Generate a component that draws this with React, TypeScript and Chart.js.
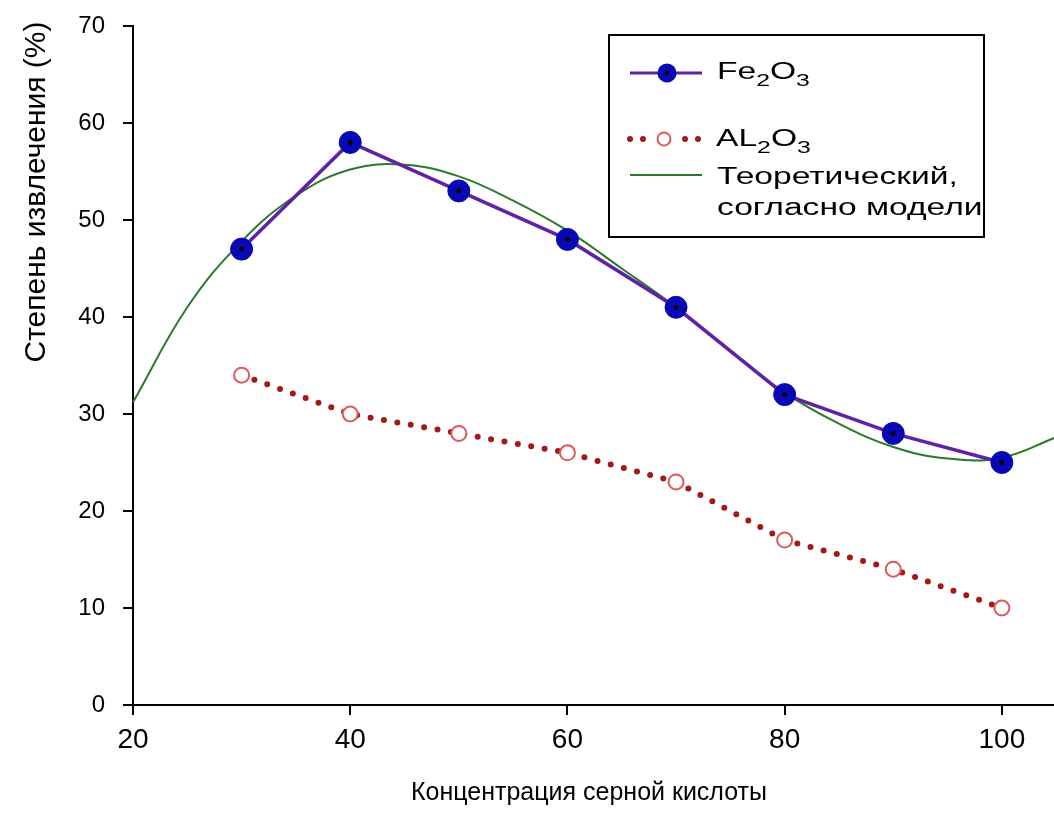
import React, { useEffect, useRef } from "react";
import { Chart, registerables } from "chart.js";

Chart.register(...registerables);

const FE_X = [30, 40, 50, 60, 70, 80, 90, 100];
const FE_Y = [47, 58, 53, 48, 41, 32, 28, 25];
const AL_X = [30, 40, 50, 60, 70, 80, 90, 100];
const AL_Y = [34, 30, 28, 26, 23, 17, 14, 10];
const THEO_X = [20, 25, 30, 35, 40, 45, 50, 55, 60, 65, 70, 75, 80, 85, 90, 95, 100, 105];
const THEO_Y = [31.2, 41, 47.8, 52.5, 55.2, 55.7, 54.5, 52, 48.9, 45, 41, 36.5, 32.2, 29, 26.6, 25.4, 25.5, 27.6];
const X_TICKS = [20, 40, 60, 80, 100];
const Y_TICKS = [0, 10, 20, 30, 40, 50, 60, 70];
const X_TITLE = "Концентрация серной кислоты";
const Y_TITLE = "Степень извлечения (%)";
const LEG_FE = ["Fe", "2", "O", "3"];
const LEG_AL = ["AL", "2", "O", "3"];
const LEG_THEO = ["Теоретический,", "согласно модели"];

const PURPLE = "#5e22a6";
const BLUE = "#0808b4";
const DARKRED = "#a51818";
const PINK = "#de5a5a";
const GREEN = "#2b7a2b";
const SANS = "'Liberation Sans', Arial, sans-serif";
const LEG_SX = 1.46;

function stretchText(ctx: CanvasRenderingContext2D, t: string, x: number, y: number, sx: number) {
  ctx.save();
  ctx.translate(x, y);
  ctx.scale(sx, 1);
  ctx.fillText(t, 0, 0);
  ctx.restore();
  return ctx.measureText(t).width * sx;
}

function drawSub(ctx: CanvasRenderingContext2D, parts: string[], x: number, y: number) {
  let cx = x;
  parts.forEach((p, i) => {
    const sub = i % 2 === 1;
    ctx.font = sub ? `17px ${SANS}` : `23px ${SANS}`;
    ctx.textBaseline = "alphabetic";
    ctx.textAlign = "left";
    cx += stretchText(ctx, p, cx, sub ? y + 7 : y, LEG_SX);
  });
}

const overlay = {
  id: "overlay",
  afterDatasetsDraw(chart: any) {
    const ctx = chart.ctx as CanvasRenderingContext2D;
    const meta = chart.getDatasetMeta(0);
    ctx.save();
    ctx.fillStyle = "#000";
    meta.data.forEach((pt: any) => {
      ctx.beginPath();
      ctx.arc(pt.x, pt.y, 2.4, 0, Math.PI * 2);
      ctx.fill();
    });
    ctx.restore();
  },
  afterDraw(chart: any) {
    const ctx = chart.ctx as CanvasRenderingContext2D;
    ctx.save();
    ctx.fillStyle = "#000";
    ctx.textAlign = "center";
    ctx.textBaseline = "middle";
    ctx.font = `30px ${SANS}`;
    ctx.save();
    ctx.translate(37, 192);
    ctx.rotate(-Math.PI / 2);
    ctx.fillText(Y_TITLE, 0, 0);
    ctx.restore();
    ctx.font = `25px ${SANS}`;
    ctx.textBaseline = "alphabetic";
    ctx.fillText(X_TITLE, 589, 800);

    // legend box
    ctx.lineWidth = 2;
    ctx.strokeStyle = "#000";
    ctx.fillStyle = "#fff";
    ctx.fillRect(609, 35, 375, 202);
    ctx.strokeRect(609, 35, 375, 202);

    // Fe entry
    ctx.strokeStyle = PURPLE;
    ctx.lineWidth = 3;
    ctx.beginPath();
    ctx.moveTo(630, 73);
    ctx.lineTo(702, 73);
    ctx.stroke();
    ctx.fillStyle = BLUE;
    ctx.beginPath();
    ctx.arc(667, 73, 9.5, 0, Math.PI * 2);
    ctx.fill();
    ctx.fillStyle = "#000";
    ctx.beginPath();
    ctx.arc(667, 73, 2.2, 0, Math.PI * 2);
    ctx.fill();
    drawSub(ctx, LEG_FE, 717, 79);

    // Al entry
    ctx.fillStyle = DARKRED;
    [630, 643, 685, 698].forEach((dx) => {
      ctx.beginPath();
      ctx.arc(dx, 139, 3, 0, Math.PI * 2);
      ctx.fill();
    });
    ctx.strokeStyle = PINK;
    ctx.lineWidth = 2;
    ctx.fillStyle = "#fff";
    ctx.beginPath();
    ctx.arc(664, 139, 6.5, 0, Math.PI * 2);
    ctx.fill();
    ctx.stroke();
    ctx.fillStyle = "#000";
    drawSub(ctx, LEG_AL, 716, 146);

    // Theoretical entry
    ctx.strokeStyle = GREEN;
    ctx.lineWidth = 2;
    ctx.beginPath();
    ctx.moveTo(630, 175);
    ctx.lineTo(702, 175);
    ctx.stroke();
    ctx.fillStyle = "#000";
    ctx.font = `23px ${SANS}`;
    ctx.textAlign = "left";
    ctx.textBaseline = "alphabetic";
    stretchText(ctx, LEG_THEO[0], 717, 184, LEG_SX);
    stretchText(ctx, LEG_THEO[1], 717, 215, LEG_SX);
    ctx.restore();
  },
};

export default function App() {
  const ref = useRef<HTMLCanvasElement>(null);
  useEffect(() => {
    if (!ref.current) return;
    const chart = new Chart(ref.current, {
      type: "line",
      data: {
        datasets: [
          {
            label: "Fe2O3",
            data: FE_X.map((x, i) => ({ x, y: FE_Y[i] })),
            borderColor: PURPLE,
            borderWidth: 3.5,
            pointRadius: 11,
            pointBackgroundColor: BLUE,
            pointBorderColor: BLUE,
            pointBorderWidth: 1,
            tension: 0,
          },
          {
            label: "AL2O3",
            data: AL_X.map((x, i) => ({ x, y: AL_Y[i] })),
            borderColor: DARKRED,
            borderWidth: 6,
            borderDash: [0, 13.6],
            borderCapStyle: "round",
            pointRadius: 7.5,
            pointBackgroundColor: "#fff",
            pointBorderColor: PINK,
            pointBorderWidth: 2,
            tension: 0,
          },
          {
            label: "Теоретический, согласно модели",
            data: THEO_X.map((x, i) => ({ x, y: THEO_Y[i] })),
            borderColor: GREEN,
            borderWidth: 2,
            pointRadius: 0,
            tension: 0.4,
          },
        ],
      },
      options: {
        animation: false,
        responsive: false,
        maintainAspectRatio: false,
        clip: false,
        layout: { autoPadding: false, padding: { top: 26, right: 0, left: 0, bottom: 0 } },
        plugins: { legend: { display: false }, tooltip: { enabled: false } },
        scales: {
          x: {
            type: "linear",
            min: 20,
            max: 104.8,
            afterBuildTicks: (s: any) => {
              s.ticks = X_TICKS.map((v) => ({ value: v }));
            },
            afterFit: (s: any) => {
              s.height = 111;
              s.paddingLeft = 0;
              s.paddingRight = 0;
            },
            grid: { drawOnChartArea: false, drawTicks: true, tickLength: 10, color: "#000", lineWidth: 2 },
            border: { display: true, color: "#000", width: 2 },
            ticks: {
              color: "#000",
              font: { family: SANS, size: 28 },
              padding: 8,
              maxRotation: 0,
            },
          },
          y: {
            min: 0,
            max: 70,
            afterBuildTicks: (s: any) => {
              s.ticks = Y_TICKS.map((v) => ({ value: v }));
            },
            afterFit: (s: any) => {
              s.width = 133;
              s.paddingTop = 0;
              s.paddingBottom = 0;
            },
            grid: { drawOnChartArea: false, drawTicks: true, tickLength: 10, color: "#000", lineWidth: 2 },
            border: { display: true, color: "#000", width: 2 },
            ticks: {
              color: "#000",
              font: { family: SANS, size: 24 },
              padding: 18,
            },
          },
        },
      },
      plugins: [overlay],
    } as any);
    return () => chart.destroy();
  }, []);
  return (
    <div style={{ position: "absolute", left: 0, top: 0, width: 1054, height: 816, background: "#fff" }}>
      <canvas ref={ref} width={1054} height={816} style={{ width: 1054, height: 816 }} />
    </div>
  );
}
